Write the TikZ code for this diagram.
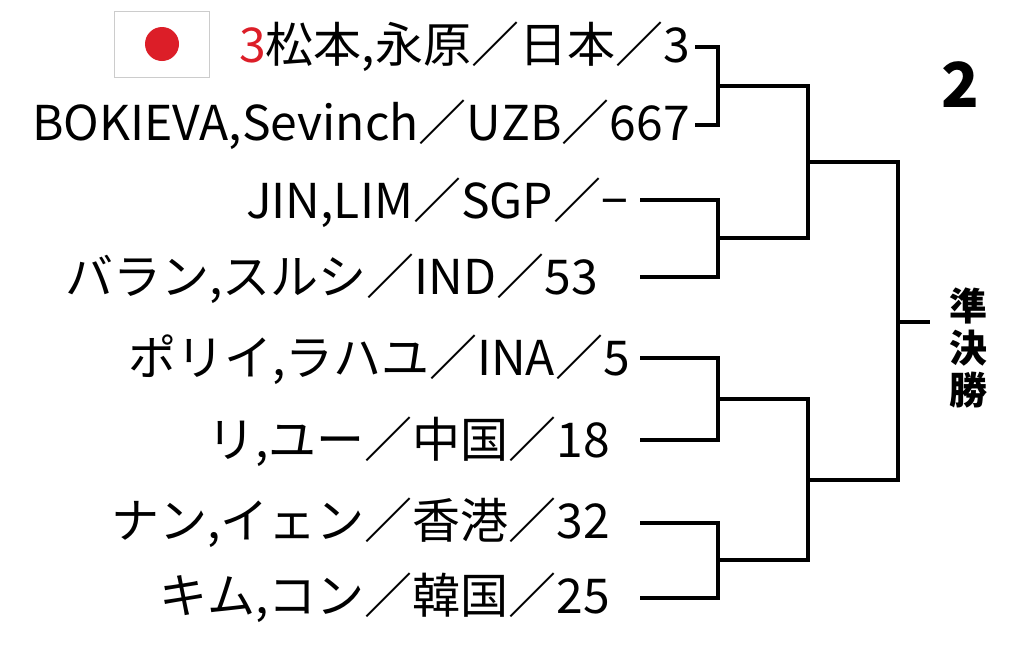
\documentclass[tikz,border=0pt]{standalone}
\usepackage{fontspec}
\setmainfont{Noto Sans CJK JP}
\usetikzlibrary{positioning}
\definecolor{flagred}{RGB}{220,30,40}

\begin{document}
\begin{tikzpicture}[x=1pt,y=-1pt,
    player/.style={anchor=east, inner sep=0pt, font=\fontsize{48}{48}\selectfont},
    bracket/.style={line width=3.5pt, line join=miter}
    ]
\useasboundingbox (0,0) rectangle (1024,651);

% players
\node[player] (p1) at (690,47) {\textcolor{flagred}{3}松本,永原／日本／3};
\node[player] (p2) at (690,125) {BOKIEVA,Sevinch／UZB／667};
\node[player] (p3) at (628,203) {JIN,LIM／SGP／−};
\node[player] (p4) at (598,279) {バラン,スルシ／IND／53};
\node[player] (p5) at (630,360) {ポリイ,ラハユ／INA／5};
\node[player] (p6) at (610,442) {リ,ユー／中国／18};
\node[player] (p7) at (610,523) {ナン,イェン／香港／32};
\node[player] (p8) at (610,598) {キム,コン／韓国／25};

% flag
\node[draw=gray!40, fill=white, minimum width=95pt, minimum height=66pt] (flag) at (162,44) {};
\fill[flagred] (flag.center) circle (17pt);

% titles
\node[font=\fontsize{62}{62}\selectfont\bfseries] (round) at (960,85) {2};
\node[font=\fontsize{38}{42}\selectfont\bfseries, align=center] (semi) at (968,348) {準\\決\\勝};

% first round
\coordinate (m1) at (718,86);
\coordinate (m2) at (718,238);
\coordinate (m3) at (718,399);
\coordinate (m4) at (718,560);
\draw[bracket] (695,47) -| (m1) |- (695,125);
\draw[bracket] (640,200) -| (m2) |- (640,277);
\draw[bracket] (640,358) -| (m3) |- (640,440);
\draw[bracket] (640,523) -| (m4) |- (640,598);

% second round
\coordinate (q1) at (808,162);
\coordinate (q2) at (808,480);
\draw[bracket] (m1) -| (q1) |- (m2);
\draw[bracket] (m3) -| (q2) |- (m4);

% semifinal
\coordinate (s1) at (898,322);
\draw[bracket] (q1) -| (s1) |- (q2);
\draw[bracket] (s1) -- (930,322);
\end{tikzpicture}
\end{document}
